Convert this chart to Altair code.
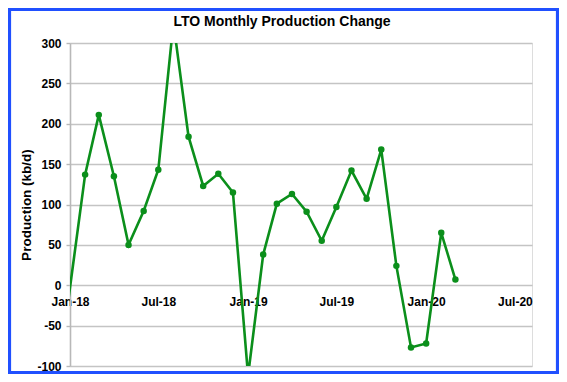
import altair as alt
import pandas as pd

months = ["2017-12-01", "2018-02-01", "2018-03-01", "2018-04-01", "2018-05-01", "2018-06-01",
          "2018-07-01", "2018-08-01", "2018-09-01", "2018-10-01", "2018-11-01", "2018-12-01",
          "2019-01-01", "2019-02-01", "2019-03-01", "2019-04-01", "2019-05-01", "2019-06-01",
          "2019-07-01", "2019-08-01", "2019-09-01", "2019-10-01", "2019-11-01", "2019-12-01",
          "2020-01-01", "2020-02-01", "2020-03-01"]
change = [-143, 137, 211, 135, 50, 92,
          143, 325, 184, 123, 138, 115,
          -112, 38, 101, 113, 91, 55,
          97, 142, 107, 168, 24, -77,
          -72, 65, 7]
y_ticks = [-100, -50, 0, 50, 100, 150, 200, 250, 300]
x_tick_months = [(2018, 1), (2018, 7), (2019, 1), (2019, 7), (2020, 1), (2020, 7)]
title_text = ["LTO Monthly Production Change"]

df = pd.DataFrame({"date": months, "change": change})

W, H = 462, 323
FONT = "Liberation Sans"
GREEN = "#0b8f1b"
GRID = "#c4c4c4"

x_scale = alt.Scale(type="utc",
                    domain=[alt.DateTime(year=2018, month=1, date=1, utc=True),
                            alt.DateTime(year=2020, month=8, date=5, utc=True)])
y_scale = alt.Scale(domain=[-100, 300], nice=False, zero=False)

x_axis = alt.Axis(
    values=[alt.DateTime(year=y, month=m, date=1, utc=True) for y, m in x_tick_months],
    labelExpr="utcFormat(datum.value, '%b-%y')", title=None, grid=False,
    offset=-(H * 100 / 400), domain=False, ticks=False,
    labelFont=FONT, labelFontSize=12, labelFontWeight="bold", labelColor="black",
    labelPadding=11, labelBaseline="top", labelFlush=False,
)
y_axis = alt.Axis(
    values=y_ticks, title="Production (kb/d)", grid=True, gridColor=GRID, gridWidth=1.6,
    domain=True, domainColor="#b8b8b8", domainWidth=1.6,
    ticks=True, tickColor="#b8b8b8", tickSize=4, tickWidth=1.4,
    labelExpr="datum.value < 0 ? '-' + format(-datum.value, 'd') : format(datum.value, 'd')",
    labelFont=FONT, labelFontSize=12, labelFontWeight="bold", labelColor="black",
    labelPadding=5, titleFont=FONT, titleFontSize=13.5, titleFontWeight="bold",
    titleColor="black", titlePadding=3,
)

base = alt.Chart(df).encode(
    x=alt.X("date:T", scale=x_scale, axis=x_axis),
    y=alt.Y("change:Q", scale=y_scale, axis=y_axis),
)

line = base.mark_line(color=GREEN, strokeWidth=2.6, clip=True)
points = base.mark_point(color=GREEN, filled=True, size=42, opacity=1, clip=True)

border = alt.Chart(pd.DataFrame({"b": [0]})).mark_rect(
    filled=False, stroke="#2050ff", strokeWidth=3.2, fill=None, clip=False
).encode(
    x=alt.value(-60.5), x2=alt.value(487.5), y=alt.value(-33.5), y2=alt.value(329.5)
)

title = alt.Chart(pd.DataFrame({"t": title_text})).mark_text(
    font=FONT, fontSize=14, fontWeight="bold", color="black",
    align="center", baseline="alphabetic", clip=False
).encode(text="t:N", x=alt.value(212), y=alt.value(-17))

chart = alt.layer(line, points, border, title).properties(
    width=W, height=H,
    autosize=alt.AutoSizeParams(type="none"),
    padding={"left": 62, "top": 35, "right": 27, "bottom": 8},
).configure_view(stroke=None).configure(background="white")

chart.save("out.html", embed_options={"renderer": "svg", "actions": False})
